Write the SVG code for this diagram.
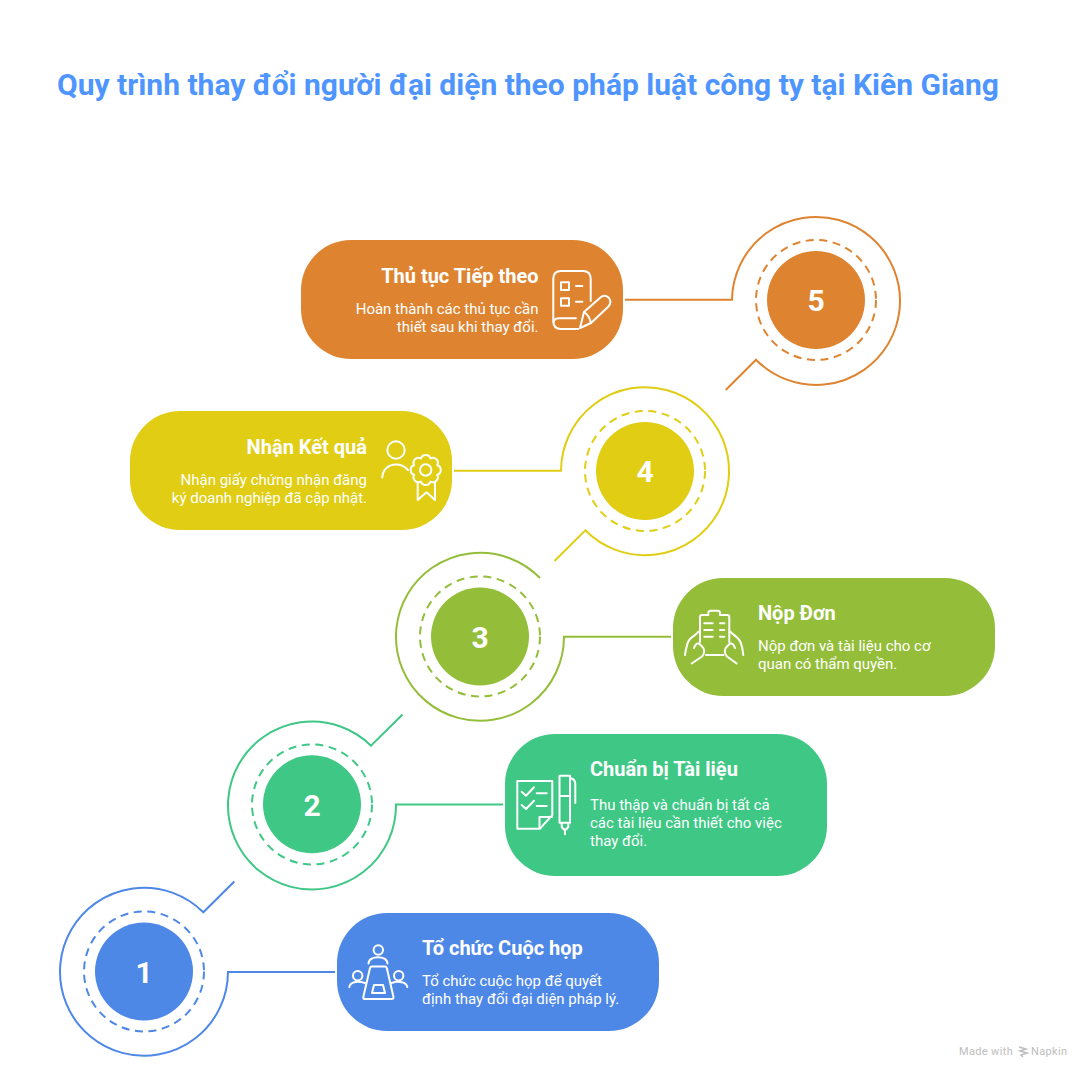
<svg xmlns="http://www.w3.org/2000/svg" width="1092" height="1080" viewBox="0 0 1092 1080">
<style>
text{font-family:Roboto,"Liberation Sans",sans-serif}
.title{font-size:30px;font-weight:700;fill:#4F95FF}
.h{font-size:20px;font-weight:700;fill:#fff}
.b{font-size:15px;fill:#fff}
.n{font-size:30px;font-weight:700;fill:#fff;text-anchor:middle}
.e{text-anchor:end}
.i{fill:none;stroke:#fff;stroke-width:2;stroke-linecap:round;stroke-linejoin:round}
.l{fill:none;stroke-width:2;stroke-linejoin:miter}
.d{fill:none;stroke-width:2;stroke-dasharray:8 5.6}
.c1{stroke:#4E88E7}.c2{stroke:#3EC785}.c3{stroke:#94BE3A}.c4{stroke:#E0CD14}.c5{stroke:#DE8431}
.f1{fill:#4E88E7}.f2{fill:#3EC785}.f3{fill:#94BE3A}.f4{fill:#E0CD14}.f5{fill:#DE8431}
</style>
<rect width="1092" height="1080" fill="#fff"/>
<text class="title" x="57" y="95">Quy trình thay đổi người đại diện theo pháp luật công ty tại Kiên Giang</text>
<g id="connectors">
<path class="l c1" d="M335,972H228A84,84 0 1 1 203.3,912.3L234.3,881.5"/>
<path class="l c2" d="M503,804.5H396A84,84 0 1 1 371,745.7L402.5,714.5"/>
<path class="l c3" d="M671,636.7H564A84,84 0 1 1 540,578"/>
<path class="l c4" d="M454,470.7H561A84,84 0 1 1 585.3,530.3L554.5,561"/>
<path class="l c5" d="M625,299.7H732A84,84 0 1 1 756,359.7L725.7,390"/>
</g>
<g id="node1">
<circle class="d c1" cx="144" cy="971.5" r="60"/><circle class="f1" cx="144" cy="971.5" r="49"/>
<text class="n" x="144" y="982.5">1</text>
<rect class="f1" x="337" y="913" width="322" height="118" rx="50"/>
<g class="i">
<circle cx="378.3" cy="950" r="4.7"/><path d="M368.5,963.5C369,955 387,955 387.5,963.5"/>
<circle cx="357.7" cy="975.7" r="4.7"/><path d="M349.3,987C350,982 357,980.5 365,983"/>
<circle cx="398.7" cy="975.7" r="4.7"/><path d="M407.3,987C406.5,982 399,980.5 391.5,983"/>
<path d="M372,966.5H385Q386.5,966.5 386.8,968L393.5,997Q393.7,999 391.5,999H365Q363,999 363.3,997L370,968Q370.3,966.5 372,966.5Z"/>
<path d="M374,985H383L385,993H372Z"/>
</g>
<text class="h" x="422" y="955">Tổ chức Cuộc họp</text>
<text class="b" x="422" y="986">Tổ chức cuộc họp để quyết</text>
<text class="b" x="422" y="1004">định thay đổi đại diện pháp lý.</text>
</g>
<g id="node2">
<circle class="d c2" cx="312" cy="804.5" r="60"/><circle class="f2" cx="312" cy="804.3" r="49"/>
<text class="n" x="312" y="815.5">2</text>
<rect class="f2" x="505" y="734" width="322" height="142" rx="50"/>
<g class="i">
<path d="M517.3,781H552.3V815L540,828.7H517.3Z"/><path d="M539.5,828V817H552"/>
<path d="M521.7,791.7L526,795.7L534,787.3M536.7,793.3H546.7M521.7,805L526,809L534,800.7M536.7,806H546.7"/>
<path d="M559.5,775.7H570V822.7H559.5ZM559.5,796H570M570,778Q575.3,779 575.3,784V803M561.7,823V827L564,829.5H566L568.3,827V823M565,829.5V834.3"/>
</g>
<text class="h" x="590" y="775.5">Chuẩn bị Tài liệu</text>
<text class="b" x="590" y="810">Thu thập và chuẩn bị tất cả</text>
<text class="b" x="590" y="828">các tài liệu cần thiết cho việc</text>
<text class="b" x="590" y="846">thay đổi.</text>
</g>
<g id="node3">
<circle class="d c3" cx="480" cy="636.5" r="60"/><circle class="f3" cx="480" cy="636.5" r="49"/>
<text class="n" x="480" y="647.5">3</text>
<rect class="f3" x="673" y="578" width="322" height="118" rx="50"/>
<g class="i">
<path d="M700,642V617Q700,615 702,615H708.3V613Q708.3,610.7 711,610.7H717.5Q720,610.7 720,613V615H727.5Q729.3,615 729.3,617V642"/>
<path d="M706,655H723.3"/>
<path d="M704.3,623.3H712.7M720,623.3H724.3M704.3,630H712.7M720,630H724.3M704.3,636.7H712.7M720,636.7H724.3"/>
<path d="M685,655C686,648 687,642 690,639C693,636 697,634 698.3,631.7M691.7,663.5L702,656.5C705,653 705,649 702,646.5L699,643.5C697,643 695,645 694,648"/>
<path d="M743.3,655C742.5,648 741.5,642 738.5,639C736,636 732,634 730.5,631.7M736.7,663.5L727,656.5C724,653 724,649 727,646.5L730,643.5C732,643 734,645 735,648"/>
</g>
<text class="h" x="758" y="619.5">Nộp Đơn</text>
<text class="b" x="758" y="651">Nộp đơn và tài liệu cho cơ</text>
<text class="b" x="758" y="669">quan có thẩm quyền.</text>
</g>
<g id="node4">
<circle class="d c4" cx="645" cy="471" r="60"/><circle class="f4" cx="645" cy="471" r="49"/>
<text class="n" x="645" y="482">4</text>
<rect class="f4" x="130" y="411" width="322" height="119" rx="50"/>
<g class="i">
<circle cx="396" cy="450" r="8.7"/>
<path d="M382.3,477.5C382.5,470 388,464.5 396,464.5C401,464.5 405,466.5 408,470"/>
<path transform="translate(425.7,470)" d="M11.55,-4.78A5 5 0 0 1 11.55,4.78A5 5 0 0 1 4.78,11.55A5 5 0 0 1 -4.78,11.55A5 5 0 0 1 -11.55,4.78A5 5 0 0 1 -11.55,-4.78A5 5 0 0 1 -4.78,-11.55A5 5 0 0 1 4.78,-11.55A5 5 0 0 1 11.55,-4.78Z"/>
<circle cx="425.7" cy="470" r="5.7"/>
<path d="M417.7,482V500L426.5,492.3L435,500V482"/>
</g>
<text class="h e" x="367" y="454">Nhận Kết quả</text>
<text class="b e" x="367" y="485">Nhận giấy chứng nhận đăng</text>
<text class="b e" x="367" y="503">ký doanh nghiệp đã cập nhật.</text>
</g>
<g id="node5">
<circle class="d c5" cx="816" cy="300" r="60"/><circle class="f5" cx="816" cy="300" r="49"/>
<text class="n" x="816" y="311">5</text>
<rect class="f5" x="301" y="240" width="322" height="119" rx="50"/>
<g class="i">
<path d="M578.3,329H561Q553.3,329 553.3,321V279Q553.3,271 561,271H583Q590.7,271 590.7,279V301"/>
<path d="M553.5,322Q554.5,318.3 559,318.3H576"/>
<path d="M561,282.3H569V290H561ZM561,298.3H569V305.7H561ZM576,286H582.3M576,301.7H582.3"/>
<path d="M580,328L584,312L601,297Q605.5,294 609,298Q612,302 608.5,306.5L591,323Z"/>
<path d="M584,312Q589,315 591,323"/>
</g>
<text class="h e" x="538.5" y="282.5">Thủ tục Tiếp theo</text>
<text class="b e" x="538.5" y="314">Hoàn thành các thủ tục cần</text>
<text class="b e" x="538.5" y="332">thiết sau khi thay đổi.</text>
</g>
<g id="watermark">
<text x="959" y="1055" font-size="11" fill="#bdbdbd" letter-spacing=".35">Made with</text>
<path d="M1019,1047L1026,1049L1020,1051L1027,1053L1021,1055L1023,1057" fill="none" stroke="#bdbdbd" stroke-width="1.5"/>
<text x="1031" y="1055" font-size="11" fill="#bdbdbd" letter-spacing=".35">Napkin</text>
</g>
</svg>
